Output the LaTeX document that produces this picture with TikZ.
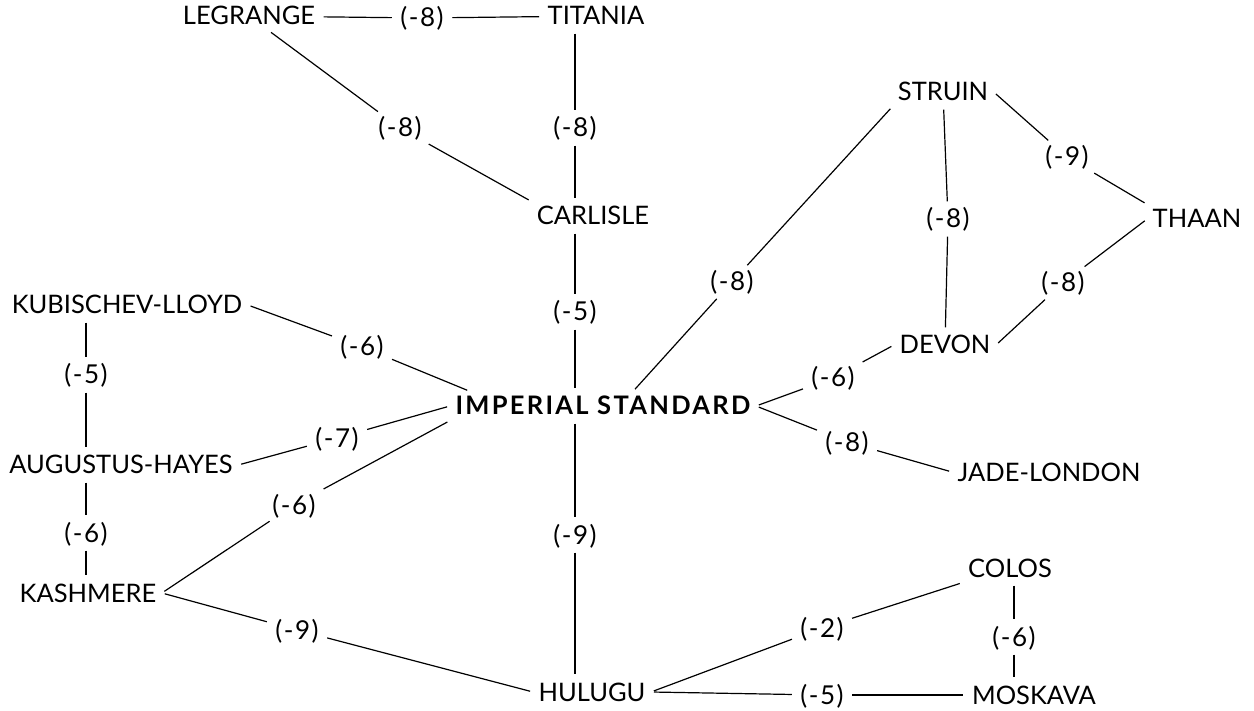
\documentclass[tikz,border=0pt]{standalone}
\usepackage{fontspec}
\setmainfont{Lato}
\usetikzlibrary{positioning}

\begin{document}
\begin{tikzpicture}[
                    x=1pt,
                    y=-1pt,
                    line width=1.2pt,
                    shorten >=3pt,
                    shorten <=3pt,
                    every node/.style={
                        font=\fontsize{25.5}{28}\selectfont,
                        text height=18pt,
                        text depth=0pt,
                        inner sep=5pt
                    },
                    capital/.style={font=\fontsize{25.5}{28}\selectfont\bfseries\addfontfeature{LetterSpace=9}},
                    jump/.style={inner sep=5pt, font=\fontsize{26}{28}\selectfont\addfontfeature{LetterSpace=6}}
                ]
                \useasboundingbox (0,0) rectangle (1254,711);

                % worlds
                \node (legrange) at (249,16) {LEGRANGE};
                \node (titania) at (596,16) {TITANIA};
                \node (carlisle) at (593,216) {CARLISLE};
                \node (struin) at (943,92) {STRUIN};
                \node (thaan) at (1197,219) {THAAN};
                \node (devon) at (945,345) {DEVON};
                \node (kubischev-lloyd) at (127,305) {KUBISCHEV-LLOYD};
                \node[capital] (imperial-standard) at (603,406) {IMPERIAL STANDARD};
                \node (augustus-hayes) at (121,465) {AUGUSTUS-HAYES};
                \node (jade-london) at (1049,472) {JADE-LONDON};
                \node (kashmere) at (88,593) {KASHMERE};
                \node (colos) at (1010,568) {COLOS};
                \node (hulugu) at (592,692) {HULUGU};
                \node (moskava) at (1034,695) {MOSKAVA};

                % jump weights
                \node[jump] (j-leg-tit) at (422,18) {(-8)};
                \node[jump] (j-leg-car) at (400,128) {(-8)};
                \node[jump] (j-tit-car) at (575,128) {(-8)};
                \node[jump] (j-car-imp) at (575,312) {(-5)};
                \node[jump] (j-str-imp) at (732,282) {(-8)};
                \node[jump] (j-str-dev) at (948,219) {(-8)};
                \node[jump] (j-str-tha) at (1067,157) {(-9)};
                \node[jump] (j-tha-dev) at (1063,283) {(-8)};
                \node[jump] (j-imp-dev) at (833,378) {(-6)};
                \node[jump] (j-imp-jad) at (847,442) {(-8)};
                \node[jump] (j-kub-imp) at (362,347) {(-6)};
                \node[jump] (j-kub-aug) at (86,375) {(-5)};
                \node[jump] (j-aug-imp) at (337,438) {(-7)};
                \node[jump] (j-aug-kas) at (86,533) {(-6)};
                \node[jump] (j-kas-imp) at (294,505) {(-6)};
                \node[jump] (j-imp-hul) at (575,535) {(-9)};
                \node[jump] (j-kas-hul) at (297,630) {(-9)};
                \node[jump] (j-hul-col) at (822,628) {(-2)};
                \node[jump] (j-col-mos) at (1014,637) {(-6)};
                \node[jump] (j-hul-mos) at (822,695) {(-5)};

                \path
                (legrange) edge (j-leg-tit)
                (j-leg-tit) edge (titania)
                (legrange) edge (j-leg-car)
                (j-leg-car) edge (carlisle.north west)
                (j-tit-car |- titania.south) edge (j-tit-car)
                (j-tit-car) edge (j-tit-car |- carlisle.north)
                (j-car-imp |- carlisle.south) edge (j-car-imp)
                (j-car-imp) edge (j-car-imp |- imperial-standard.north)
                (struin.south west) edge (j-str-imp)
                (j-str-imp) edge ([xshift=30pt]imperial-standard.north)
                (struin) edge (j-str-dev)
                (j-str-dev) edge (devon)
                (struin.east) edge (j-str-tha)
                (j-str-tha) edge (thaan.north west)
                (thaan.west) edge (j-tha-dev)
                (j-tha-dev) edge (devon.east)
                (imperial-standard.east) edge (j-imp-dev)
                (j-imp-dev) edge (devon.west)
                (imperial-standard.east) edge (j-imp-jad)
                (j-imp-jad) edge (jade-london.west)
                (kubischev-lloyd.east) edge (j-kub-imp)
                (j-kub-imp) edge ([xshift=20pt]imperial-standard.north west)
                (j-kub-aug |- kubischev-lloyd.south) edge (j-kub-aug)
                (j-kub-aug) edge (j-kub-aug |- augustus-hayes.north)
                (augustus-hayes.east) edge (j-aug-imp)
                (j-aug-imp) edge (imperial-standard.west)
                (j-aug-kas |- augustus-hayes.south) edge (j-aug-kas)
                (j-aug-kas) edge (j-aug-kas |- kashmere.north)
                (kashmere.east) edge (j-kas-imp)
                (j-kas-imp) edge (imperial-standard.south west)
                (kashmere.east) edge (j-kas-hul)
                (j-kas-hul) edge (hulugu.west)
                (j-imp-hul |- imperial-standard.south) edge (j-imp-hul)
                (j-imp-hul) edge (j-imp-hul |- hulugu.north)
                (hulugu.east) edge (j-hul-col)
                (j-hul-col) edge (colos.south west)
                (j-col-mos |- colos.south) edge (j-col-mos)
                (j-col-mos) edge (j-col-mos |- moskava.north)
                (hulugu.east) edge (j-hul-mos)
                (j-hul-mos) edge (moskava.west)
                ;
            \end{tikzpicture}
\end{document}
